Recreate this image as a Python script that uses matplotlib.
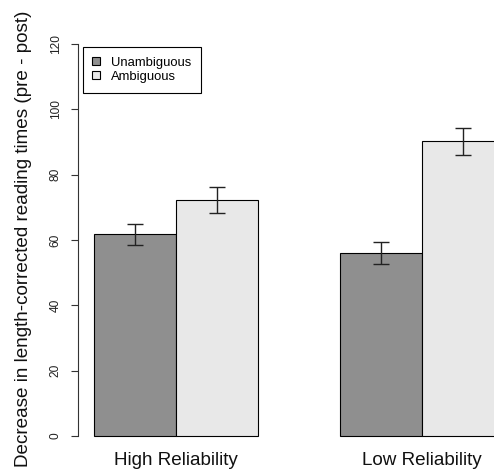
import matplotlib
matplotlib.use("Agg")
import matplotlib.pyplot as plt
from matplotlib.patches import Patch
import numpy as np

plt.rcParams['font.family'] = ['Liberation Sans', 'DejaVu Sans']

groups = ["High Reliability", "Low Reliability"]
series = ["Unambiguous", "Ambiguous"]
means = {"Unambiguous": [61.8, 55.9], "Ambiguous": [72.3, 90.2]}
errors = {"Unambiguous": [3.2, 3.35], "Ambiguous": [3.9, 4.1]}
colors = {"Unambiguous": "#8f8f8f", "Ambiguous": "#e8e8e8"}
yticks = [0, 20, 40, 60, 80, 100, 120]
ylabel = "Decrease in length-corrected reading times (pre - post)"

W, H = 494, 469
fig = plt.figure(figsize=(W / 100, H / 100), dpi=100)
# axes: x from 0.8 to 6.2 (R barplot style), y from -4.8 to 124.8
left_px, right_px = 78.0, 520.7
top_px, bot_px = 28.3, 451.7
ax = fig.add_axes([left_px / W, 1 - bot_px / H, (right_px - left_px) / W, (bot_px - top_px) / H])
ax.set_xlim(0.8, 6.2)
ax.set_ylim(-4.8, 124.8)

group_starts = np.array([1.0, 4.0])
for i, s in enumerate(series):
    xs = group_starts + i + 0.5
    ax.bar(xs, means[s], width=1.0, color=colors[s], edgecolor="black", linewidth=0.8, zorder=2)
    ax.errorbar(xs, means[s], yerr=errors[s], fmt="none", ecolor="#222222",
                elinewidth=1.0, capsize=5.8, capthick=1.0, zorder=3)

for sp in ["top", "right", "bottom"]:
    ax.spines[sp].set_visible(False)
ax.spines["left"].set_bounds(0, 120)
ax.spines["left"].set_linewidth(0.8)
ax.spines["left"].set_color("#333333")
ax.set_yticks(yticks)
ax.set_yticklabels([str(t) for t in yticks], rotation=90, va="center", fontsize=8.6, color="#222222")
ax.tick_params(axis="y", length=5.2, width=0.8, color="#333333", pad=6.5)
ax.set_xticks([])

for g, gs in zip(groups, group_starts):
    ax.annotate(g, xy=(gs + 1.0, 0), xycoords=("data", "axes fraction"),
                xytext=(0, -13.5), textcoords="offset pixels",
                ha="center", va="baseline", fontsize=13.6, color="#111111")

fig.text(23.5 / W, 1 - 239 / H, ylabel, rotation=90, ha="center", va="center",
         fontsize=13.6, color="#111111")

handles = [Patch(facecolor=colors[s], edgecolor="black", linewidth=0.8) for s in series]
leg = ax.legend(handles, series, loc="upper left",
                bbox_to_anchor=(82.7 / W, 1 - 47 / H), bbox_transform=fig.transFigure,
                borderaxespad=0, fancybox=False, framealpha=1, edgecolor="black",
                fontsize=9.4, handlelength=0.58, handleheight=0.58, handletextpad=0.85,
                borderpad=0.75, labelspacing=0.15)
leg.get_frame().set_linewidth(0.8)

fig.savefig("out.png", dpi=100, facecolor="white")
